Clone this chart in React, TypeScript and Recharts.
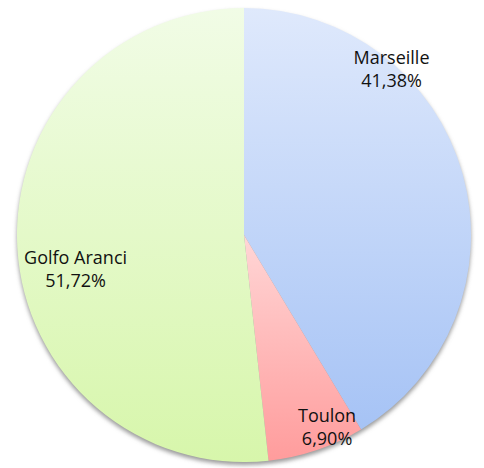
import React from 'react';
import { PieChart, Pie, Cell } from 'recharts';

const ports = ['Marseille', 'Toulon', 'Golfo Aranci'];
const counts = [12, 2, 15];

// top / bottom colours of each slice's gradient
const topColors = ['#dfe9fc', '#ffd6d6', '#f1fce6'];
const bottomColors = ['#a6c3f5', '#ff9c9c', '#d7f6ab'];

// label block centre, as a fraction of the radius from the centre
const labelSpots = [
  { dx: 0.65, dy: -0.74 },
  { dx: 0.366, dy: 0.835 },
  { dx: -0.742, dy: 0.143 },
];

const data = ports.map((name, i) => ({ name, value: counts[i] }));
const total = counts.reduce((a, b) => a + b, 0);

const renderLabel = (props: any) => {
  const { cx, cy, outerRadius, index, value } = props;
  const spot = labelSpots[index];
  const x = cx + spot.dx * outerRadius;
  const y = cy + spot.dy * outerRadius;
  const pct = ((value / total) * 100).toFixed(2).replace('.', ',') + '%';
  return (
    <text
      x={x}
      y={y - 3}
      textAnchor="middle"
      fill="#111"
      fontSize={18}
      fontFamily="'Open Sans', sans-serif"
    >
      <tspan x={x} dy={0}>{ports[index]}</tspan>
      <tspan x={x} dy={23}>{pct}</tspan>
    </text>
  );
};

const App: React.FC = () => {
  return (
    <div style={{ position: 'absolute', left: 0, top: 0, width: 484, height: 468, background: '#fff' }}>
      <PieChart width={484} height={468} margin={{ top: 0, right: 0, bottom: 0, left: 0 }}>
        <defs>
          {ports.map((p, i) => (
            <linearGradient key={p} id={`grad${i}`} x1="0" y1="0" x2="0" y2="1">
              <stop offset="0%" stopColor={topColors[i]} />
              <stop offset="100%" stopColor={bottomColors[i]} />
            </linearGradient>
          ))}
          <filter id="blur" x="-10%" y="-10%" width="120%" height="120%">
            <feGaussianBlur stdDeviation="2" />
          </filter>
        </defs>
        {/* soft shadow under the pie */}
        <Pie
          data={[{ name: 'shadow', value: total }]}
          dataKey="value"
          cx={244}
          cy={238}
          outerRadius={227}
          stroke="none"
          fill="#9a9a9a"
          style={{ filter: 'url(#blur)' }}
          isAnimationActive={false}
          legendType="none"
        />
        <Pie
          data={data}
          dataKey="value"
          nameKey="name"
          cx={244}
          cy={235}
          outerRadius={227}
          startAngle={90}
          endAngle={-270}
          stroke="none"
          label={renderLabel}
          labelLine={false}
          isAnimationActive={false}
        >
          {data.map((d, i) => (
            <Cell key={d.name} fill={`url(#grad${i})`} />
          ))}
        </Pie>
      </PieChart>
    </div>
  );
};

export default App;
